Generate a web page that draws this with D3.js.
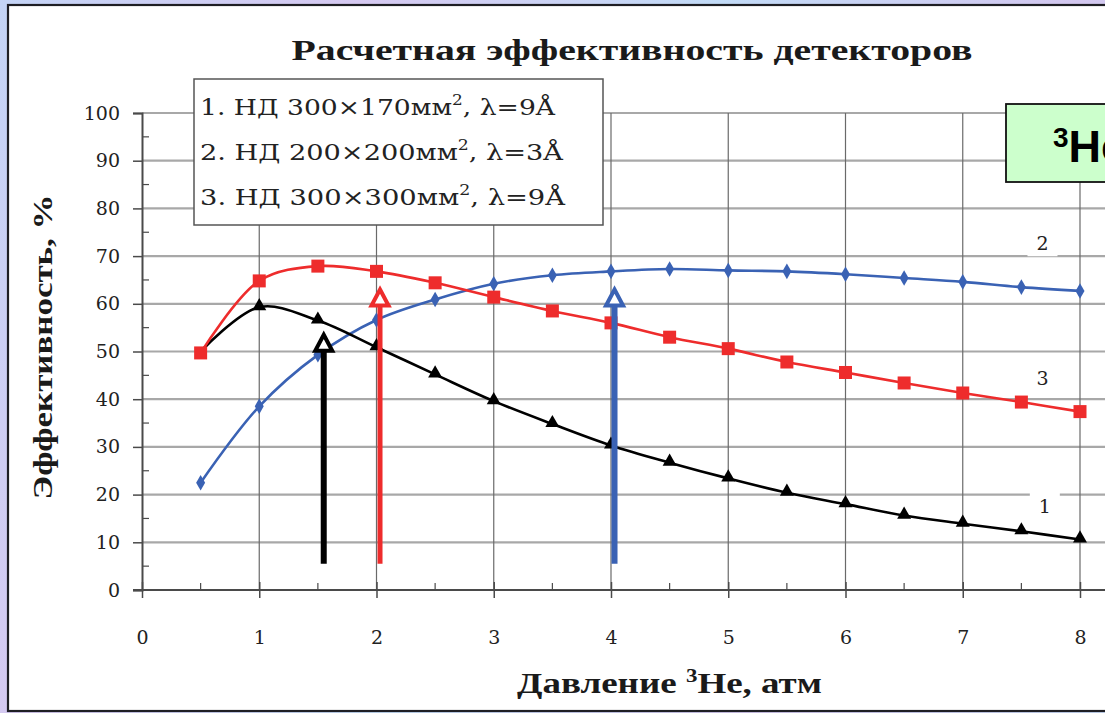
<!DOCTYPE html>
<html>
<head>
<meta charset="utf-8">
<script src="https://cdn.jsdelivr.net/npm/d3@7"></script>
<style>
  html, body { margin: 0; padding: 0; }
  body { width: 1105px; height: 713px; overflow: hidden;
         background: linear-gradient(115deg, #c4d4f6 0%, #d6c9f1 25%, #c2dbf7 50%, #d3c7ef 75%, #c6d8f6 100%); }
  svg { display: block; }
</style>
</head>
<body>
<svg id="chart" width="1105" height="713"></svg>
<script>
// ---- data ----
const pressure = [0.5, 1, 1.5, 2, 2.5, 3, 3.5, 4, 4.5, 5, 5.5, 6, 6.5, 7, 7.5, 8];
const eff1 = [50.0, 59.3, 56.5, 50.9, 45.2, 39.6, 34.8, 30.3, 26.7, 23.4, 20.4, 18.0, 15.6, 13.9, 12.3, 10.6];
const eff2 = [22.5, 38.5, 49.3, 56.6, 60.9, 64.2, 66.0, 66.8, 67.3, 67.0, 66.8, 66.2, 65.4, 64.6, 63.5, 62.7];
const eff3 = [49.7, 64.8, 67.9, 66.8, 64.4, 61.4, 58.5, 56.0, 53.0, 50.6, 47.8, 45.6, 43.4, 41.3, 39.4, 37.4];
const xTicks = [0, 1, 2, 3, 4, 5, 6, 7, 8];
const yTicks = [0, 10, 20, 30, 40, 50, 60, 70, 80, 90, 100];
const legendLines = [
  ["1. НД 300×170мм", ", λ=9Å"],
  ["2. НД 200×200мм", ", λ=3Å"],
  ["3. НД 300×300мм", ", λ=9Å"]
];
const legendWidths = [355, 363, 365];
const curveLabels = ["1", "2", "3"];
const curveLabelX = [7.7, 7.68, 7.68];
const curveLabelY = [17.6, 72.7, 44.4];
const arrowX = [1.55, 2.03, 4.03];
const arrowTop = [53.5, 63.0, 63.0];
const arrowBottom = 5.5;
const titleText = "Расчетная эффективность детекторов";
const yTitle = "Эффективность, %";

const colors = ["#000000", "#3a62b4", "#ee2c2c"];

const svg = d3.select("#chart");

// white panel with frame
svg.append("rect").attr("x", 8).attr("y", 5).attr("width", 1120).attr("height", 706)
  .attr("fill", "#ffffff").attr("stroke", "#1e1e24").attr("stroke-width", 2.2);

const x = d3.scaleLinear().domain([0, 8]).range([142, 1080]);
const y = d3.scaleLinear().domain([0, 100]).range([590, 113]);

// grid
const grid = svg.append("g");
grid.selectAll("line.h").data(yTicks.filter(d => d > 0)).join("line")
  .attr("x1", x(0)).attr("x2", x(8.3))
  .attr("y1", d => y(d)).attr("y2", d => y(d))
  .attr("stroke", "#a8a8a8").attr("stroke-width", 2.2);
grid.selectAll("line.v").data(xTicks.filter(d => d > 0)).join("line")
  .attr("x1", d => x(d)).attr("x2", d => x(d))
  .attr("y1", y(100)).attr("y2", y(0))
  .attr("stroke", "#6a6a6a").attr("stroke-width", 1.2);

// axes
const axisColor = "#4a4a4a";
const yAxis = d3.axisLeft(y).tickValues(yTicks).tickSize(9).tickPadding(13).tickFormat(d3.format("d"));
const gy = svg.append("g").attr("transform", `translate(${x(0)},0)`).call(yAxis);
gy.select(".domain").attr("stroke", axisColor).attr("stroke-width", 2);
gy.selectAll(".tick line").attr("stroke", axisColor).attr("stroke-width", 1.5);
gy.selectAll(".tick text").attr("font-family", "DejaVu Serif").attr("font-size", 19).attr("fill", "#222");
// minor y ticks
svg.append("g").selectAll("line").data(d3.range(5, 100, 10)).join("line")
  .attr("x1", x(0)).attr("x2", x(0) + 7).attr("y1", d => y(d)).attr("y2", d => y(d))
  .attr("stroke", axisColor).attr("stroke-width", 1.2);

const xAxis = d3.axisBottom(x).tickValues(xTicks).tickSize(8).tickPadding(33).tickFormat(d3.format("d"));
const gx = svg.append("g").attr("transform", `translate(0,${y(0)})`).call(xAxis);
gx.select(".domain").remove();
gx.selectAll(".tick line").attr("stroke", axisColor).attr("stroke-width", 1.5).attr("y1", -8);
gx.selectAll(".tick text").attr("font-family", "DejaVu Serif").attr("font-size", 19).attr("fill", "#222");
svg.append("line").attr("x1", x(0) - 9).attr("x2", x(8.3)).attr("y1", y(0)).attr("y2", y(0))
  .attr("stroke", axisColor).attr("stroke-width", 2);
// minor x ticks
svg.append("g").selectAll("line").data(d3.range(0.5, 8, 1)).join("line")
  .attr("x1", d => x(d)).attr("x2", d => x(d)).attr("y1", y(0) - 7).attr("y2", y(0))
  .attr("stroke", axisColor).attr("stroke-width", 1.2);

// curve labels with white backing
curveLabels.forEach((t, i) => {
  svg.append("rect").attr("x", x(curveLabelX[i]) - 15).attr("y", y(curveLabelY[i]) - 15)
    .attr("width", 30).attr("height", 28).attr("fill", "#fff");
  svg.append("text").attr("x", x(curveLabelX[i])).attr("y", y(curveLabelY[i]))
    .attr("dy", "0.35em").attr("text-anchor", "middle")
    .attr("font-family", "DejaVu Serif").attr("font-size", 19).attr("fill", "#222").text(t);
});

// lines
const series = [eff1, eff2, eff3];
const line = d3.line().x(d => x(d[0])).y(d => y(d[1])).curve(d3.curveCatmullRom.alpha(0.5));
[1, 0, 2].forEach(i => {
  svg.append("path").datum(pressure.map((p, j) => [p, series[i][j]]))
    .attr("d", line).attr("fill", "none").attr("stroke", colors[i]).attr("stroke-width", 2.6);
});

// markers
const triangle = d3.symbol().type(d3.symbolTriangle).size(85);
const diamond = d3.symbol().type(d3.symbolDiamond).size(70);
svg.append("g").selectAll("path").data(pressure.map((p, j) => [p, eff1[j]]).slice(1)).join("path")
  .attr("transform", d => `translate(${x(d[0])},${y(d[1]) - 1})`).attr("d", triangle).attr("fill", colors[0]);
svg.append("g").selectAll("path").data(pressure.map((p, j) => [p, eff2[j]])).join("path")
  .attr("transform", d => `translate(${x(d[0])},${y(d[1])})`).attr("d", diamond).attr("fill", colors[1]);
svg.append("g").selectAll("rect").data(pressure.map((p, j) => [p, eff3[j]])).join("rect")
  .attr("x", d => x(d[0]) - 6.5).attr("y", d => y(d[1]) - 6.5).attr("width", 13).attr("height", 13)
  .attr("fill", colors[2]);

// arrows
const arrowColors = [colors[0], colors[2], colors[1]];
arrowX.forEach((ax, i) => {
  const cx = x(ax), top = y(arrowTop[i]), bot = y(arrowBottom);
  const headH = 16, headW = 8.5;
  svg.append("line").attr("x1", cx).attr("x2", cx).attr("y1", bot).attr("y2", top + headH)
    .attr("stroke", arrowColors[i]).attr("stroke-width", i === 1 ? 5 : 6);
  svg.append("path")
    .attr("d", `M${cx},${top} L${cx + headW},${top + headH} L${cx - headW},${top + headH} Z`)
    .attr("fill", "#fff").attr("stroke", arrowColors[i]).attr("stroke-width", 4)
    .attr("stroke-linejoin", "miter");
});

// legend
svg.append("rect").attr("x", 194).attr("y", 79).attr("width", 409).attr("height", 146)
  .attr("fill", "#fff").attr("stroke", "#555").attr("stroke-width", 1.5);
legendLines.forEach((l, i) => {
  const t = svg.append("text").attr("x", 200).attr("y", 115 + i * 45)
    .attr("font-family", "DejaVu Serif").attr("font-size", 22).attr("fill", "#222")
    .attr("textLength", legendWidths[i]).attr("lengthAdjust", "spacingAndGlyphs");
  t.append("tspan").text(l[0]);
  t.append("tspan").attr("font-size", 14).attr("dy", -10).text("2");
  t.append("tspan").attr("dy", 10).text(l[1]);
});

// title
svg.append("text").attr("x", 632).attr("y", 60).attr("text-anchor", "middle")
  .attr("font-family", "Liberation Serif").attr("font-weight", "bold").attr("font-size", 29)
  .attr("textLength", 681).attr("lengthAdjust", "spacingAndGlyphs").attr("fill", "#1a1a1a").text(titleText);

// y title
svg.append("text").attr("transform", "translate(52,347) rotate(-90)").attr("text-anchor", "middle")
  .attr("font-family", "Liberation Serif").attr("font-weight", "bold").attr("font-size", 27)
  .attr("textLength", 305).attr("lengthAdjust", "spacingAndGlyphs").attr("fill", "#1a1a1a").text(yTitle);

// x title
const xt = svg.append("text").attr("x", 517).attr("y", 693)
  .attr("font-family", "Liberation Serif").attr("font-weight", "bold").attr("font-size", 29)
  .attr("textLength", 305).attr("lengthAdjust", "spacingAndGlyphs")
  .attr("fill", "#1a1a1a");
xt.append("tspan").text("Давление ");
xt.append("tspan").attr("font-size", 18).attr("dy", -11).text("3");
xt.append("tspan").attr("dy", 11).text("Не, атм");

// 3He box
svg.append("rect").attr("x", 1006).attr("y", 104).attr("width", 200).attr("height", 78)
  .attr("fill", "#ccffcc").attr("stroke", "#111").attr("stroke-width", 1.8);
const he = svg.append("text").attr("x", 1053).attr("y", 162)
  .attr("font-family", "Liberation Sans").attr("font-weight", "bold").attr("font-size", 45).attr("fill", "#000");
he.append("tspan").attr("font-size", 28).attr("dy", -15).text("3");
he.append("tspan").attr("dy", 15).text("He");
</script>
</body>
</html>
